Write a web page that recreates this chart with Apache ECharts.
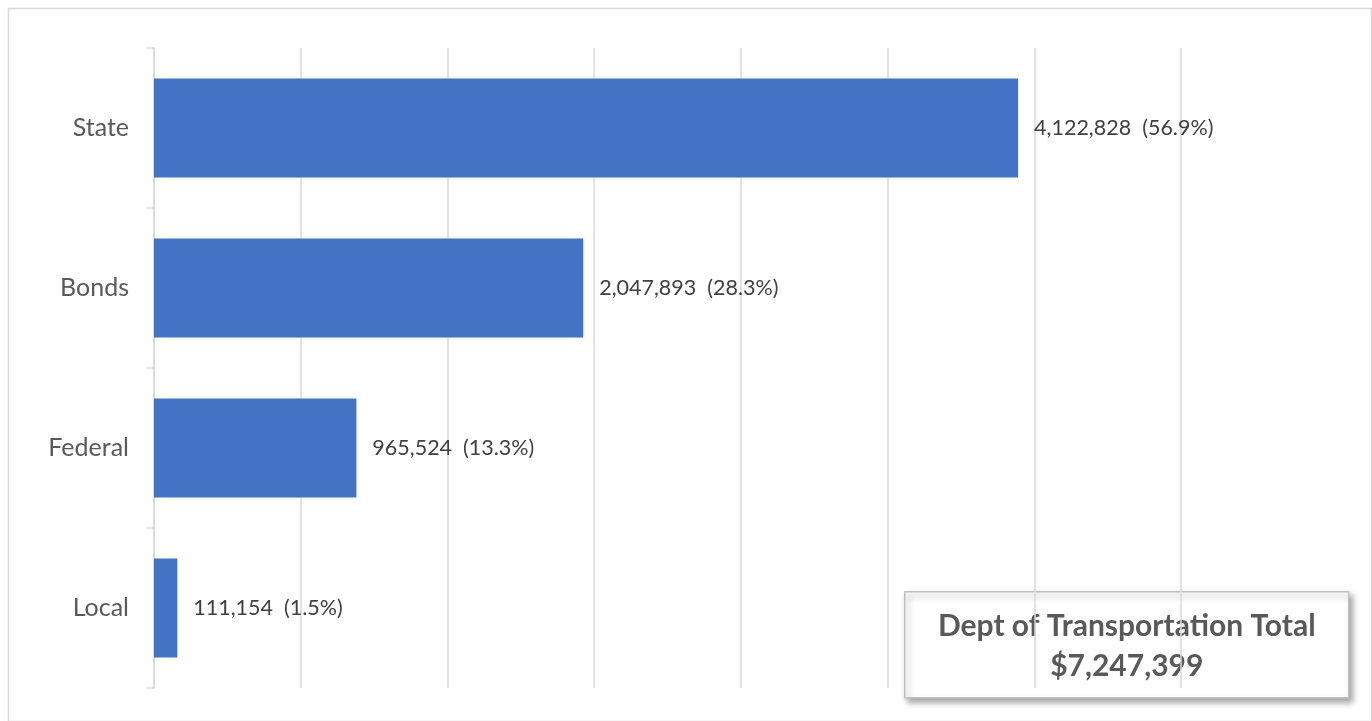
<!DOCTYPE html>
<html>
<head>
<meta charset="utf-8">
<script src="https://cdn.jsdelivr.net/npm/echarts@6/dist/echarts.min.js"></script>
<style>
html,body{margin:0;padding:0;background:#fff;}
#main{width:1372px;height:721px;}
</style>
</head>
<body>
<div id="main"></div>
<script>
// funding sources, top to bottom
var categories = ['State', 'Bonds', 'Federal', 'Local'];
var amounts = [4122828, 2047893, 965524, 111154];
var pcts = ['56.9%', '28.3%', '13.3%', '1.5%'];
var totalLabel = 'Dept of Transportation Total';
var totalValue = '$7,247,399';

var chart = echarts.init(document.getElementById('main'));

function fmt(n){
	return n.toString().replace(/\B(?=(\d{3})+(?!\d))/g, ',');
}

var option = {
	backgroundColor: '#fff',
	animation: false,
	grid: { left: 154, right: 191, top: 48, bottom: 33 },
	xAxis: {
		type: 'value',
		min: 0,
		max: 4900000,
		interval: 700000,
		axisLabel: { show: false },
		axisLine: { show: false },
		axisTick: { show: false },
		splitLine: { lineStyle: { color: '#d9d9d9', width: 1.5 } }
	},
	yAxis: {
		type: 'category',
		inverse: true,
		data: categories,
		axisLine: { lineStyle: { color: '#d9d9d9', width: 1.5 } },
		axisTick: { show: true, length: 7, lineStyle: { color: '#d9d9d9', width: 1.5 } },
		axisLabel: { color: '#595959', fontSize: 25, fontFamily: 'Lato', margin: 25 }
	},
	series: [{
		type: 'bar',
		data: amounts,
		barCategoryGap: '38%',
		itemStyle: { color: '#4472c4' },
		label: {
			show: true,
			position: 'right',
			distance: 16,
			color: '#404040',
			fontSize: 21.5,
			fontFamily: 'Lato',
			formatter: function(p){
				return fmt(p.value) + '  (' + pcts[p.dataIndex] + ')';
			}
		}
	}],
	graphic: [
		{
			type: 'rect',
			left: 6, top: 6,
			shape: { width: 1363, height: 713 },
			style: { fill: 'none', stroke: '#d9d9d9', lineWidth: 1.5 },
			z: -1
		},
		{
			type: 'group',
			left: 904, top: 591,
			z: 100,
			children: [
				{
					type: 'rect',
					shape: { x: 0, y: 0, width: 444, height: 106 },
					style: {
						fill: '#fff', stroke: '#bfbfbf', lineWidth: 1.5,
						shadowBlur: 6, shadowOffsetX: 3, shadowOffsetY: 4,
						shadowColor: 'rgba(0,0,0,0.35)'
					}
				},
				{
					type: 'text',
					x: 222, y: 55,
					style: {
						text: totalLabel + '\n' + totalValue,
						align: 'center',
						verticalAlign: 'middle',
						fill: '#595959',
						font: 'bold 30px Lato',
						lineHeight: 40
					}
				}
			]
		}
	]
};

chart.setOption(option);
</script>
</body>
</html>
